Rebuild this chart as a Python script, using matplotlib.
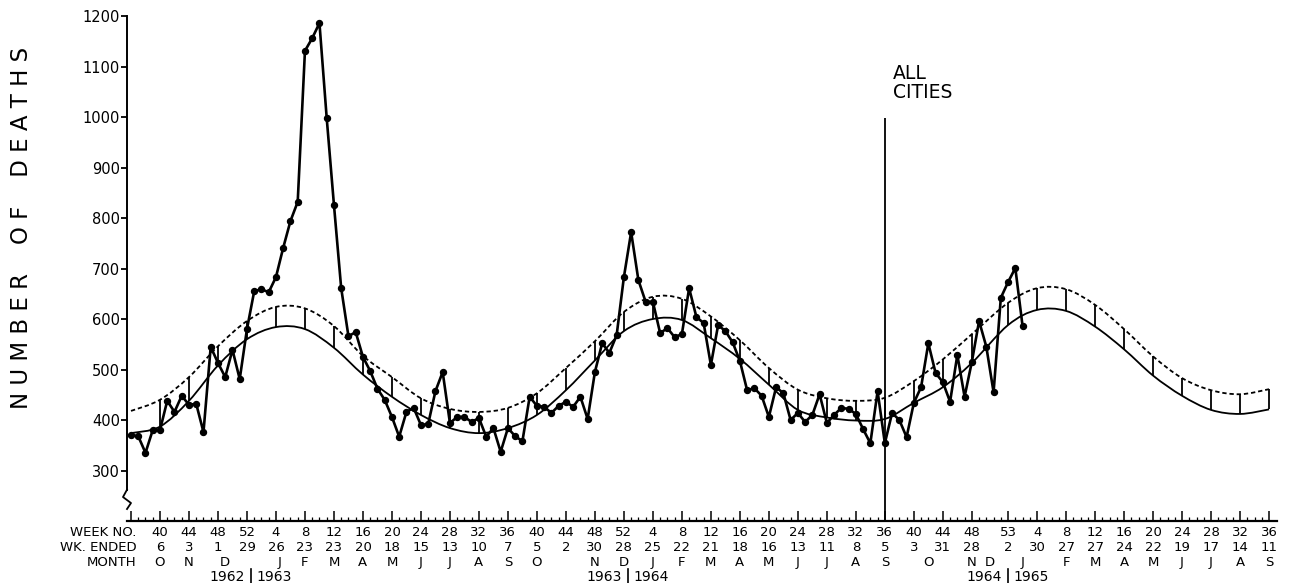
import numpy as np
import matplotlib.pyplot as plt
from matplotlib.path import Path
from matplotlib.patches import PathPatch

# week index 0 = week 40 of 1962; one step = one week
obs_start = -4
deaths = [370, 368, 335, 380, 380, 438, 416, 448, 430, 432, 376, 545, 513, 485, 539, 481,
          580, 655, 659, 653, 683, 741, 794, 832, 1131, 1156, 1186, 998, 826, 661,
          566, 574, 525, 497, 462, 440, 406, 367, 416, 424, 390, 392, 457, 495, 394, 406,
          406, 396, 404, 367, 384, 337, 384, 368, 358, 446, 428, 426, 414, 428, 436, 426,
          446, 402, 495, 552, 533, 568, 683, 772, 677, 634, 634, 572, 582, 564, 570, 661,
          604, 592, 509, 588, 576, 554, 517, 459, 463, 448, 406, 465, 453, 400, 414, 396,
          410, 451, 394, 410, 424, 422, 412, 382, 354, 457, 354, 414, 400, 366, 434, 465,
          552, 493, 475, 436, 529, 446, 515, 596, 545, 455, 642, 673, 701, 586]
obs_i = list(range(obs_start, obs_start + len(deaths)))

exp_i = [-4, 0, 4, 8, 12, 16, 20, 24, 28, 32, 36, 40, 44, 48, 52, 56, 60, 64, 68, 72, 76,
         80, 84, 88, 92, 96, 100, 104, 108, 112, 117, 121, 125, 129, 133, 137, 141, 145,
         149, 153]
expected = [374, 387, 438, 508, 560, 584, 580, 543, 490, 446, 410, 384, 374, 384, 410, 459,
            518, 576, 600, 598, 562, 521, 470, 420, 405, 399, 402, 434, 465, 513, 588, 618,
            616, 585, 540, 488, 448, 420, 412, 421]
threshold = [418, 440, 485, 546, 596, 624, 621, 586, 527, 485, 443, 422, 416, 424, 453, 503,
             556, 614, 644, 640, 605, 558, 503, 460, 443, 438, 444, 477, 520, 570, 632, 661,
             659, 628, 580, 526, 483, 459, 451, 461]

tick_i = exp_i[1:]
week_no = [40, 44, 48, 52, 4, 8, 12, 16, 20, 24, 28, 32, 36, 40, 44, 48, 52, 4, 8, 12, 16,
           20, 24, 28, 32, 36, 40, 44, 48, 53, 4, 8, 12, 16, 20, 24, 28, 32, 36]
wk_ended = [6, 3, 1, 29, 26, 23, 23, 20, 18, 15, 13, 10, 7, 5, 2, 30, 28, 25, 22, 21, 18,
            16, 13, 11, 8, 5, 3, 31, 28, 2, 30, 27, 27, 24, 22, 19, 17, 14, 11]
month_i = [0, 4, 9, 16.5, 20, 24, 28, 32, 36, 40, 44, 48, 52, 60, 64, 68, 72, 76, 80, 84,
           88, 92, 96, 100, 106, 112, 114.5, 119, 125, 129, 133, 137, 141, 145, 149, 153]
month_lbl = list("ONDJFMAMJJASONDJFMAMJJASONDJFMAMJJAS")
year_split = [12.5, 64.5, 117]
year_lbl = [("1962", "1963"), ("1963", "1964"), ("1964", "1965")]
all_cities_week = 100


def smooth(xs, ys):
    # smooth curve through the read points (Catmull-Rom as cubic Bezier)
    p = np.column_stack([xs, ys]).astype(float)
    verts, codes = [p[0]], [Path.MOVETO]
    for k in range(len(p) - 1):
        p0 = p[k - 1] if k > 0 else p[k]
        p3 = p[k + 2] if k + 2 < len(p) else p[k + 1]
        verts += [p[k] + (p[k + 1] - p0) / 6, p[k + 1] - (p3 - p[k]) / 6, p[k + 1]]
        codes += [Path.CURVE4] * 3
    return Path(verts, codes)


fig = plt.figure(figsize=(12.89, 5.83), dpi=100)
ax = fig.add_axes([127/1289, 62/583, 1150/1289, 521/583])
ax.set_xlim(-4.55, 154.1)
ax.set_ylim(200, 1231.7)

ax.add_patch(PathPatch(smooth(exp_i, expected), fill=False, color='black', lw=1.3))
ax.add_patch(PathPatch(smooth(exp_i, threshold), fill=False, color='black', lw=1.3,
                       linestyle=(0, (2.4, 1.6))))
ax.vlines(tick_i, expected[1:], threshold[1:], color='black', lw=1.3)
ax.plot(obs_i, deaths, color='black', lw=1.9, marker='o', ms=4.3)

ax.vlines(all_cities_week, 200, 998, color='black', lw=1.3)
ax.text(all_cities_week + 1.1, 1104, "ALL\nCITIES", fontsize=13.5, va='top', ha='left',
        linespacing=1.0)

for s in ['top', 'right']:
    ax.spines[s].set_visible(False)
ax.spines['bottom'].set_linewidth(1.6)
ax.spines['left'].set_linewidth(1.4)
ax.spines['left'].set_bounds(262, 1200)

# axis break mark
ax.plot([0, -4/1150, 4/1150, 0], [0.0601, 0.046, 0.0345, 0.023], transform=ax.transAxes,
        color='black', lw=1.3, clip_on=False)

ax.set_yticks(range(300, 1201, 100))
ax.tick_params(axis='y', direction='out', length=4, width=1.3, pad=1, labelsize=10.5)

ax.set_xticks([-4] + tick_i)
ax.set_xticks(range(-4, 154), minor=True)
ax.tick_params(axis='x', which='major', direction='in', length=7, width=1.1, labelbottom=False)
ax.tick_params(axis='x', which='minor', direction='in', length=3, width=0.9)

tr = ax.get_xaxis_transform()
rows = {'w': -0.023, 'e': -0.0518, 'm': -0.0806, 'y': -0.1075}
fs = 9.5
for i, w, d in zip(tick_i, week_no, wk_ended):
    ax.text(i, rows['w'], str(w), transform=tr, ha='center', va='center', fontsize=fs)
    ax.text(i, rows['e'], str(d), transform=tr, ha='center', va='center', fontsize=fs)
for i, m in zip(month_i, month_lbl):
    ax.text(i, rows['m'], m, transform=tr, ha='center', va='center', fontsize=fs)
for label, r in [("WEEK NO.", 'w'), ("WK. ENDED", 'e'), ("MONTH", 'm')]:
    ax.text(-3.2, rows[r], label, transform=tr, ha='right', va='center', fontsize=fs)
for s, (a, b) in zip(year_split, year_lbl):
    ax.text(s - 0.8, rows['y'], a, transform=tr, ha='right', va='center', fontsize=fs + 0.5)
    ax.text(s + 0.8, rows['y'], b, transform=tr, ha='left', va='center', fontsize=fs + 0.5)
    ax.plot([s, s], [-0.092, -0.122], transform=tr, color='black', lw=1.2, clip_on=False)

fig.text(22/1289, 1 - 228/583, "N U M B E R    O F    D E A T H S",
         rotation=90, ha='center', va='center', fontsize=16.5)

fig.savefig('out.png', dpi=100)
